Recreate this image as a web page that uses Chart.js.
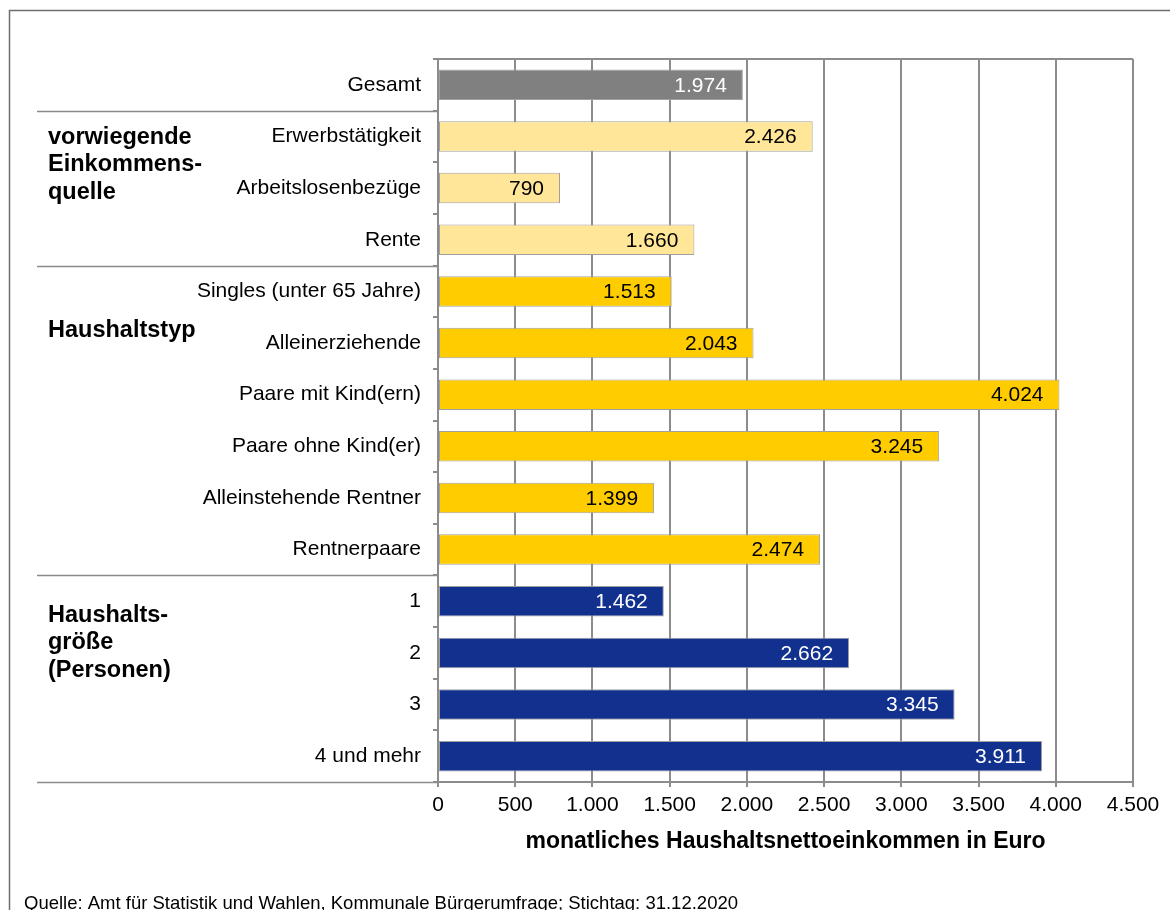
<!DOCTYPE html>
<html lang="de">
<head>
<meta charset="utf-8">
<title>Haushaltsnettoeinkommen</title>
<script src="https://cdn.jsdelivr.net/npm/chart.js@4"></script>
<style>
    html, body { margin: 0; padding: 0; background: #fff; }
    #wrap { width: 1170px; height: 910px; }
</style>
</head>
<body>
<div id="wrap"><canvas id="incomeChart" width="1170" height="910"></canvas></div>
<script>
const categories = [
    'Gesamt',
    'Erwerbstätigkeit', 'Arbeitslosenbezüge', 'Rente',
    'Singles (unter 65 Jahre)', 'Alleinerziehende', 'Paare mit Kind(ern)',
    'Paare ohne Kind(er)', 'Alleinstehende Rentner', 'Rentnerpaare',
    '1', '2', '3', '4 und mehr'
];
const income = [1974, 2426, 790, 1660, 1513, 2043, 4024, 3245, 1399, 2474, 1462, 2662, 3345, 3911];

// row groups: first row, last row, heading lines
const groups = [
    { from: 1, to: 3, lines: ['vorwiegende', 'Einkommens-', 'quelle'] },
    { from: 4, to: 9, lines: ['Haushaltstyp'] },
    { from: 10, to: 13, lines: ['Haushalts-', 'größe', '(Personen)'] }
];

const xTicks = { min: 0, max: 4500, step: 500 };
const axisTitle = 'monatliches Haushaltsnettoeinkommen in Euro';
const source = 'Quelle: Amt für Statistik und Wahlen, Kommunale Bürgerumfrage; Stichtag: 31.12.2020';

const FONT = "'Liberation Sans', Arial, sans-serif";
const GRID = '#8c8c8c';

function fillFor(i) {
    if (i === 0) return '#808080';
    if (i <= 3) return '#ffe699';
    if (i <= 9) return '#ffcc00';
    return '#12318f';
}
function labelColorFor(i) {
    return (i === 0 || i >= 10) ? '#ffffff' : '#000000';
}
function fmt(v) {
    return String(v).replace(/\B(?=(\d{3})+(?!\d))/g, '.');
}

const decorations = {
    id: 'decorations',
    afterDatasetsDraw(chart) {
        const { ctx, chartArea } = chart;
        const y = chart.scales.y;
        const meta = chart.getDatasetMeta(0);
        const half = (y.getPixelForValue(1) - y.getPixelForValue(0)) / 2;

        ctx.save();
        // value labels at the inner end of each bar
        ctx.font = '21px ' + FONT;
        ctx.textAlign = 'right';
        ctx.textBaseline = 'middle';
        meta.data.forEach((bar, i) => {
            ctx.fillStyle = labelColorFor(i);
            ctx.fillText(fmt(income[i]), bar.x - 16, bar.y + 1);
        });

        // top border of the plot
        ctx.strokeStyle = GRID;
        ctx.lineWidth = 2;
        ctx.beginPath();
        ctx.moveTo(chartArea.left, chartArea.top);
        ctx.lineTo(chartArea.right, chartArea.top);
        ctx.stroke();

        // group separators across the label column
        ctx.lineWidth = 1.5;
        ctx.strokeStyle = '#8a8a8a';
        [1, 4, 10, 14].forEach(row => {
            const py = Math.round(y.getPixelForValue(row - 1) + half) + 0.5;
            ctx.beginPath();
            ctx.moveTo(37, py);
            ctx.lineTo(chartArea.left, py);
            ctx.stroke();
        });

        // group headings
        ctx.fillStyle = '#000';
        ctx.textAlign = 'left';
        ctx.textBaseline = 'middle';
        ctx.font = 'bold 23.5px ' + FONT;
        const starts = [y.getPixelForValue(1) + 1, y.getPixelForValue(4) + 39, y.getPixelForValue(10) + 14];
        groups.forEach((g, gi) => {
            g.lines.forEach((line, li) => {
                ctx.fillText(line, 48, starts[gi] + li * 27.5);
            });
        });

        // source note
        ctx.font = '18.5px ' + FONT;
        ctx.textBaseline = 'alphabetic';
        ctx.fillText(source, 24, 909);

        // outer frame
        ctx.strokeStyle = '#6e6e6e';
        ctx.lineWidth = 1.5;
        ctx.strokeRect(9.5, 10.5, 1200, 1000);
        ctx.restore();
    }
};

new Chart(document.getElementById('incomeChart'), {
    type: 'bar',
    data: {
        labels: categories,
        datasets: [{
            data: income,
            backgroundColor: income.map((v, i) => fillFor(i)),
            borderColor: '#a0a0a0',
            borderWidth: 1,
            borderSkipped: false,
            barPercentage: 0.59,
            categoryPercentage: 1
        }]
    },
    options: {
        indexAxis: 'y',
        responsive: false,
        animation: false,
        devicePixelRatio: 1,
        layout: { padding: { top: 59, right: 37, bottom: 57, left: 0 } },
        plugins: {
            legend: { display: false },
            tooltip: { enabled: false }
        },
        scales: {
            x: {
                min: xTicks.min,
                max: xTicks.max,
                ticks: {
                    stepSize: xTicks.step,
                    color: '#000',
                    font: { family: FONT, size: 21 },
                    padding: 6,
                    callback: v => fmt(v)
                },
                grid: { color: GRID, lineWidth: 2, tickLength: 5 },
                border: { color: GRID, width: 2 },
                title: {
                    display: true,
                    text: axisTitle,
                    color: '#000',
                    font: { family: FONT, size: 23, weight: 'bold', lineHeight: 1 },
                    padding: { top: 0, bottom: 0 }
                },
                afterFit(scale) { scale.height = 71; }
            },
            y: {
                ticks: {
                    color: '#000',
                    font: { family: FONT, size: 21 },
                    padding: 12,
                    autoSkip: false
                },
                grid: { drawOnChartArea: false, offset: true, color: GRID, lineWidth: 2, tickLength: 5 },
                border: { color: GRID, width: 2 },
                afterFit(scale) { scale.width = 438; }
            }
        }
    },
    plugins: [decorations]
});
</script>
</body>
</html>
